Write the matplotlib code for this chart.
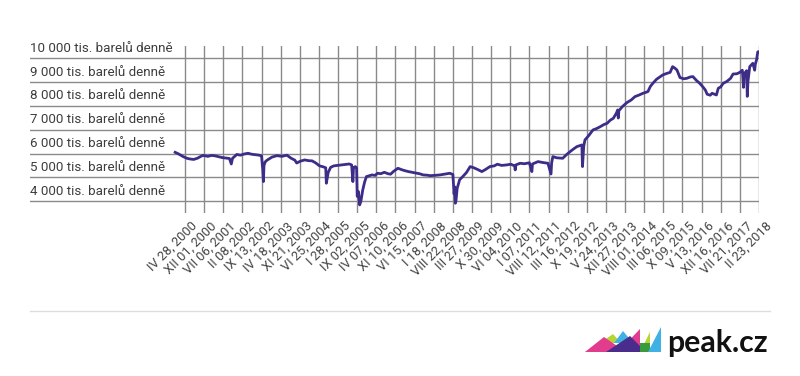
import matplotlib
matplotlib.use('Agg')
from matplotlib import pyplot as plt
from matplotlib.patches import Polygon
from matplotlib.transforms import ScaledTranslation
import numpy as np
import pandas as pd

# weekly US crude production (tis. barelů denně)
dates = [
    '2000-01-07', '2000-02-11', '2000-04-07', '2000-05-19', '2000-06-23', '2000-08-04',
    '2000-09-15', '2000-10-20', '2000-11-17', '2001-01-12', '2001-02-23', '2001-04-06',
    '2001-05-18', '2001-06-22', '2001-08-03', '2001-09-14', '2001-10-05', '2001-10-19',
    '2001-12-07', '2002-01-18', '2002-03-01', '2002-04-12', '2002-05-24', '2002-07-05',
    '2002-08-16', '2002-09-13', '2002-09-27', '2002-10-04', '2002-10-11', '2002-10-25',
    '2002-11-15', '2003-01-10', '2003-03-07', '2003-05-02', '2003-06-27', '2003-08-15',
    '2003-09-26', '2003-10-17', '2003-11-28', '2004-01-16', '2004-02-27', '2004-04-09',
    '2004-05-21', '2004-07-02', '2004-08-13', '2004-09-10', '2004-09-17', '2004-09-24',
    '2004-10-08', '2004-11-05', '2004-12-10', '2005-01-21', '2005-03-11', '2005-04-22',
    '2005-06-03', '2005-07-01', '2005-07-15', '2005-07-22', '2005-08-12', '2005-08-26',
    '2005-09-02', '2005-09-16', '2005-09-30', '2005-10-14', '2005-11-04', '2005-11-25',
    '2005-12-16', '2006-01-20', '2006-02-17', '2006-03-24', '2006-04-21', '2006-05-26',
    '2006-07-07', '2006-08-18', '2006-09-15', '2006-10-20', '2006-12-08', '2007-01-19',
    '2007-02-23', '2007-04-06', '2007-05-18', '2007-06-29', '2007-08-10', '2007-09-21',
    '2007-11-02', '2007-12-07', '2008-01-25', '2008-03-28', '2008-05-16', '2008-07-18',
    '2008-08-22', '2008-09-05', '2008-09-12', '2008-09-19', '2008-09-26', '2008-10-10',
    '2008-11-07', '2008-12-12', '2009-01-23', '2009-03-06', '2009-04-17', '2009-05-29',
    '2009-07-17', '2009-08-28', '2009-10-16', '2009-12-04', '2010-01-08', '2010-02-26',
    '2010-04-23', '2010-06-11', '2010-07-23', '2010-07-30', '2010-08-06', '2010-09-24',
    '2010-11-12', '2011-01-07', '2011-02-04', '2011-02-11', '2011-04-15', '2011-06-10',
    '2011-08-05', '2011-09-09', '2011-09-16', '2011-09-30', '2011-11-11', '2012-01-20',
    '2012-03-02', '2012-04-13', '2012-05-25', '2012-06-29', '2012-08-24', '2012-08-31',
    '2012-09-14', '2012-09-28', '2012-11-09', '2012-12-28', '2013-02-08', '2013-03-22',
    '2013-05-03', '2013-06-07', '2013-07-12', '2013-08-16', '2013-09-20', '2013-10-04',
    '2013-10-11', '2013-10-18', '2013-11-29', '2014-01-17', '2014-03-07', '2014-04-18',
    '2014-05-30', '2014-07-18', '2014-09-12', '2014-10-10', '2014-11-07', '2014-12-19',
    '2015-02-27', '2015-04-10', '2015-05-22', '2015-06-19', '2015-07-17', '2015-08-07',
    '2015-09-11', '2015-10-23', '2015-11-27', '2016-01-08', '2016-02-05', '2016-03-18',
    '2016-04-22', '2016-06-03', '2016-06-24', '2016-07-15', '2016-08-19', '2016-09-09',
    '2016-10-28', '2016-11-18', '2016-12-16', '2017-01-13', '2017-02-24', '2017-04-07',
    '2017-05-05', '2017-06-16', '2017-07-21', '2017-08-18', '2017-09-01', '2017-09-08',
    '2017-10-06', '2017-10-13', '2017-10-20', '2017-11-10', '2017-12-15', '2018-01-05',
    '2018-01-12', '2018-01-26', '2018-02-09', '2018-02-23',
]
production = [
    6050, 5990, 5870, 5800, 5770, 5750,
    5800, 5870, 5920, 5880, 5920, 5900,
    5860, 5830, 5810, 5790, 5560, 5800,
    5960, 5930, 5980, 6010, 5970, 5950,
    5930, 5900, 5310, 4820, 5500, 5650,
    5720, 5850, 5910, 5880, 5930, 5800,
    5720, 5600, 5680, 5730, 5700, 5690,
    5600, 5480, 5440, 5400, 4750, 4900,
    5200, 5420, 5480, 5500, 5520, 5540,
    5560, 5520, 4820, 5400, 5450, 5400,
    4200, 4400, 3840, 4000, 4470, 4800,
    5030, 5070, 5100, 5080, 5170, 5150,
    5210, 5150, 5130, 5250, 5380, 5320,
    5280, 5240, 5210, 5180, 5150, 5100,
    5090, 5070, 5080, 5100, 5130, 5170,
    5120, 4300, 4600, 3910, 4000, 4540,
    4900, 5030, 5200, 5450, 5400, 5330,
    5240, 5330, 5450, 5480, 5550, 5500,
    5520, 5550, 5480, 5310, 5520, 5590,
    5570, 5610, 5240, 5560, 5660, 5620,
    5590, 5140, 5600, 5870, 5820, 5800,
    5950, 6080, 6200, 6290, 6360, 5450,
    6300, 6570, 6750, 6990, 7050, 7130,
    7220, 7270, 7400, 7480, 7700, 7830,
    7490, 7800, 7980, 8140, 8250, 8390,
    8450, 8530, 8600, 8820, 8950, 9120,
    9300, 9360, 9410, 9650, 9580, 9510,
    9190, 9140, 9160, 9220, 9230, 9060,
    8950, 8770, 8670, 8490, 8450, 8530,
    8460, 8740, 8800, 8950, 9030, 9160,
    9340, 9350, 9410, 9500, 8780, 9350,
    9480, 8400, 9000, 9650, 9790, 9500,
    9750, 9930, 10270, 10280,
]

tick_dates = pd.to_datetime('2000-04-28') + pd.to_timedelta(np.arange(31) * 217, unit='D')
tick_labels = [
    'IV 28, 2000', 'XII 01, 2000', 'VII 06, 2001', 'II 08, 2002', 'IX 13, 2002',
    'IV 18, 2003', 'XI 21, 2003', 'VI 25, 2004', 'I 28, 2005', 'IX 02, 2005',
    'IV 07, 2006', 'XI 10, 2006', 'VI 15, 2007', 'I 18, 2008', 'VIII 22, 2008',
    'III 27, 2009', 'X 30, 2009', 'VI 04, 2010', 'I 07, 2011', 'VIII 12, 2011',
    'III 16, 2012', 'X 19, 2012', 'V 24, 2013', 'XII 27, 2013', 'VIII 01, 2014',
    'III 06, 2015', 'X 09, 2015', 'V 13, 2016', 'XII 16, 2016', 'VII 21, 2017',
    'II 23, 2018',
]
y_ticks = [4000, 5000, 6000, 7000, 8000, 9000, 10000]
y_labels = ['4 000 tis. barelů denně', '5 000 tis. barelů denně', '6 000 tis. barelů denně',
            '7 000 tis. barelů denně', '8 000 tis. barelů denně', '9 000 tis. barelů denně',
            '10 000 tis. barelů denně']

plt.rcParams['font.family'] = ['Roboto', 'DejaVu Sans']
W, H = 800, 376
fig = plt.figure(figsize=(W / 100, H / 100), dpi=100)
ax = fig.add_axes([30 / W, 1 - 213 / H, 729 / W, (213 - 45.7) / H])

x = pd.to_datetime(dates)
ax.plot(x, production, color='#3d2c88', lw=2.0, solid_joinstyle='round')

ax.set_xlim(pd.Timestamp('1995-07-06'), pd.Timestamp('2018-02-23'))
ax.set_ylim(3500, 10530)
for s in ax.spines.values():
    s.set_visible(False)

# horizontal grid across the whole width, vertical only at the ticks
for v in y_ticks:
    ax.axhline(v, color='#8a8a8a', lw=1, zorder=0)
for d in tick_dates:
    ax.axvline(d, color='#8a8a8a', lw=1, zorder=0)

ax.set_yticks([])
ax.set_xticks(tick_dates)
ax.set_xticklabels(tick_labels, rotation=45, ha='right', va='center',
                   rotation_mode='anchor', fontsize=9.3, color='#444444')
ax.tick_params(axis='x', length=0, pad=8)
shift = ScaledTranslation(0.105, 0, fig.dpi_scale_trans)
for lab in ax.get_xticklabels():
    lab.set_transform(lab.get_transform() + shift)

for v, lab in zip(y_ticks, y_labels):
    ax.annotate(lab, xy=(0, v), xycoords=('axes fraction', 'data'),
                xytext=(0, 2.5), textcoords='offset points',
                ha='left', va='bottom', fontsize=9.6, color='#3d3d3d')

# footer line
fig.add_artist(plt.Line2D([30 / W, 770 / W], [1 - 311 / H, 1 - 311 / H],
                          color='#dddddd', lw=1))

# peak.cz logo
def px(pts):
    return [(a / W, 1 - b / H) for a, b in pts]

logo = [
    ('#b8d432', [(600, 343), (613, 334), (621, 343)]),
    ('#3fb1e3', [(614, 343), (623, 331), (633, 343)]),
    ('#e23c8f', [(585, 352), (604, 337), (626, 352)]),
    ('#e23c8f', [(618, 352), (640, 329), (640, 352)]),
    ('#4a2c8c', [(606, 352), (630, 336), (646, 352)]),
    ('#b8d432', [(640, 352), (650, 332), (650, 352)]),
    ('#3a9b3c', [(640, 343), (650, 343), (650, 352), (640, 352)]),
    ('#3fb1e3', [(648, 352), (661, 327), (661, 352)]),
]
for c, pts in logo:
    fig.add_artist(Polygon(px(pts), closed=True, facecolor=c, edgecolor='none'))
fig.text(667 / W, 1 - 352 / H, 'peak.cz', fontsize=21.8, fontweight='bold',
         color='#111111', ha='left', va='baseline', family=['Lato', 'DejaVu Sans'])

fig.savefig('out.png', dpi=100)
